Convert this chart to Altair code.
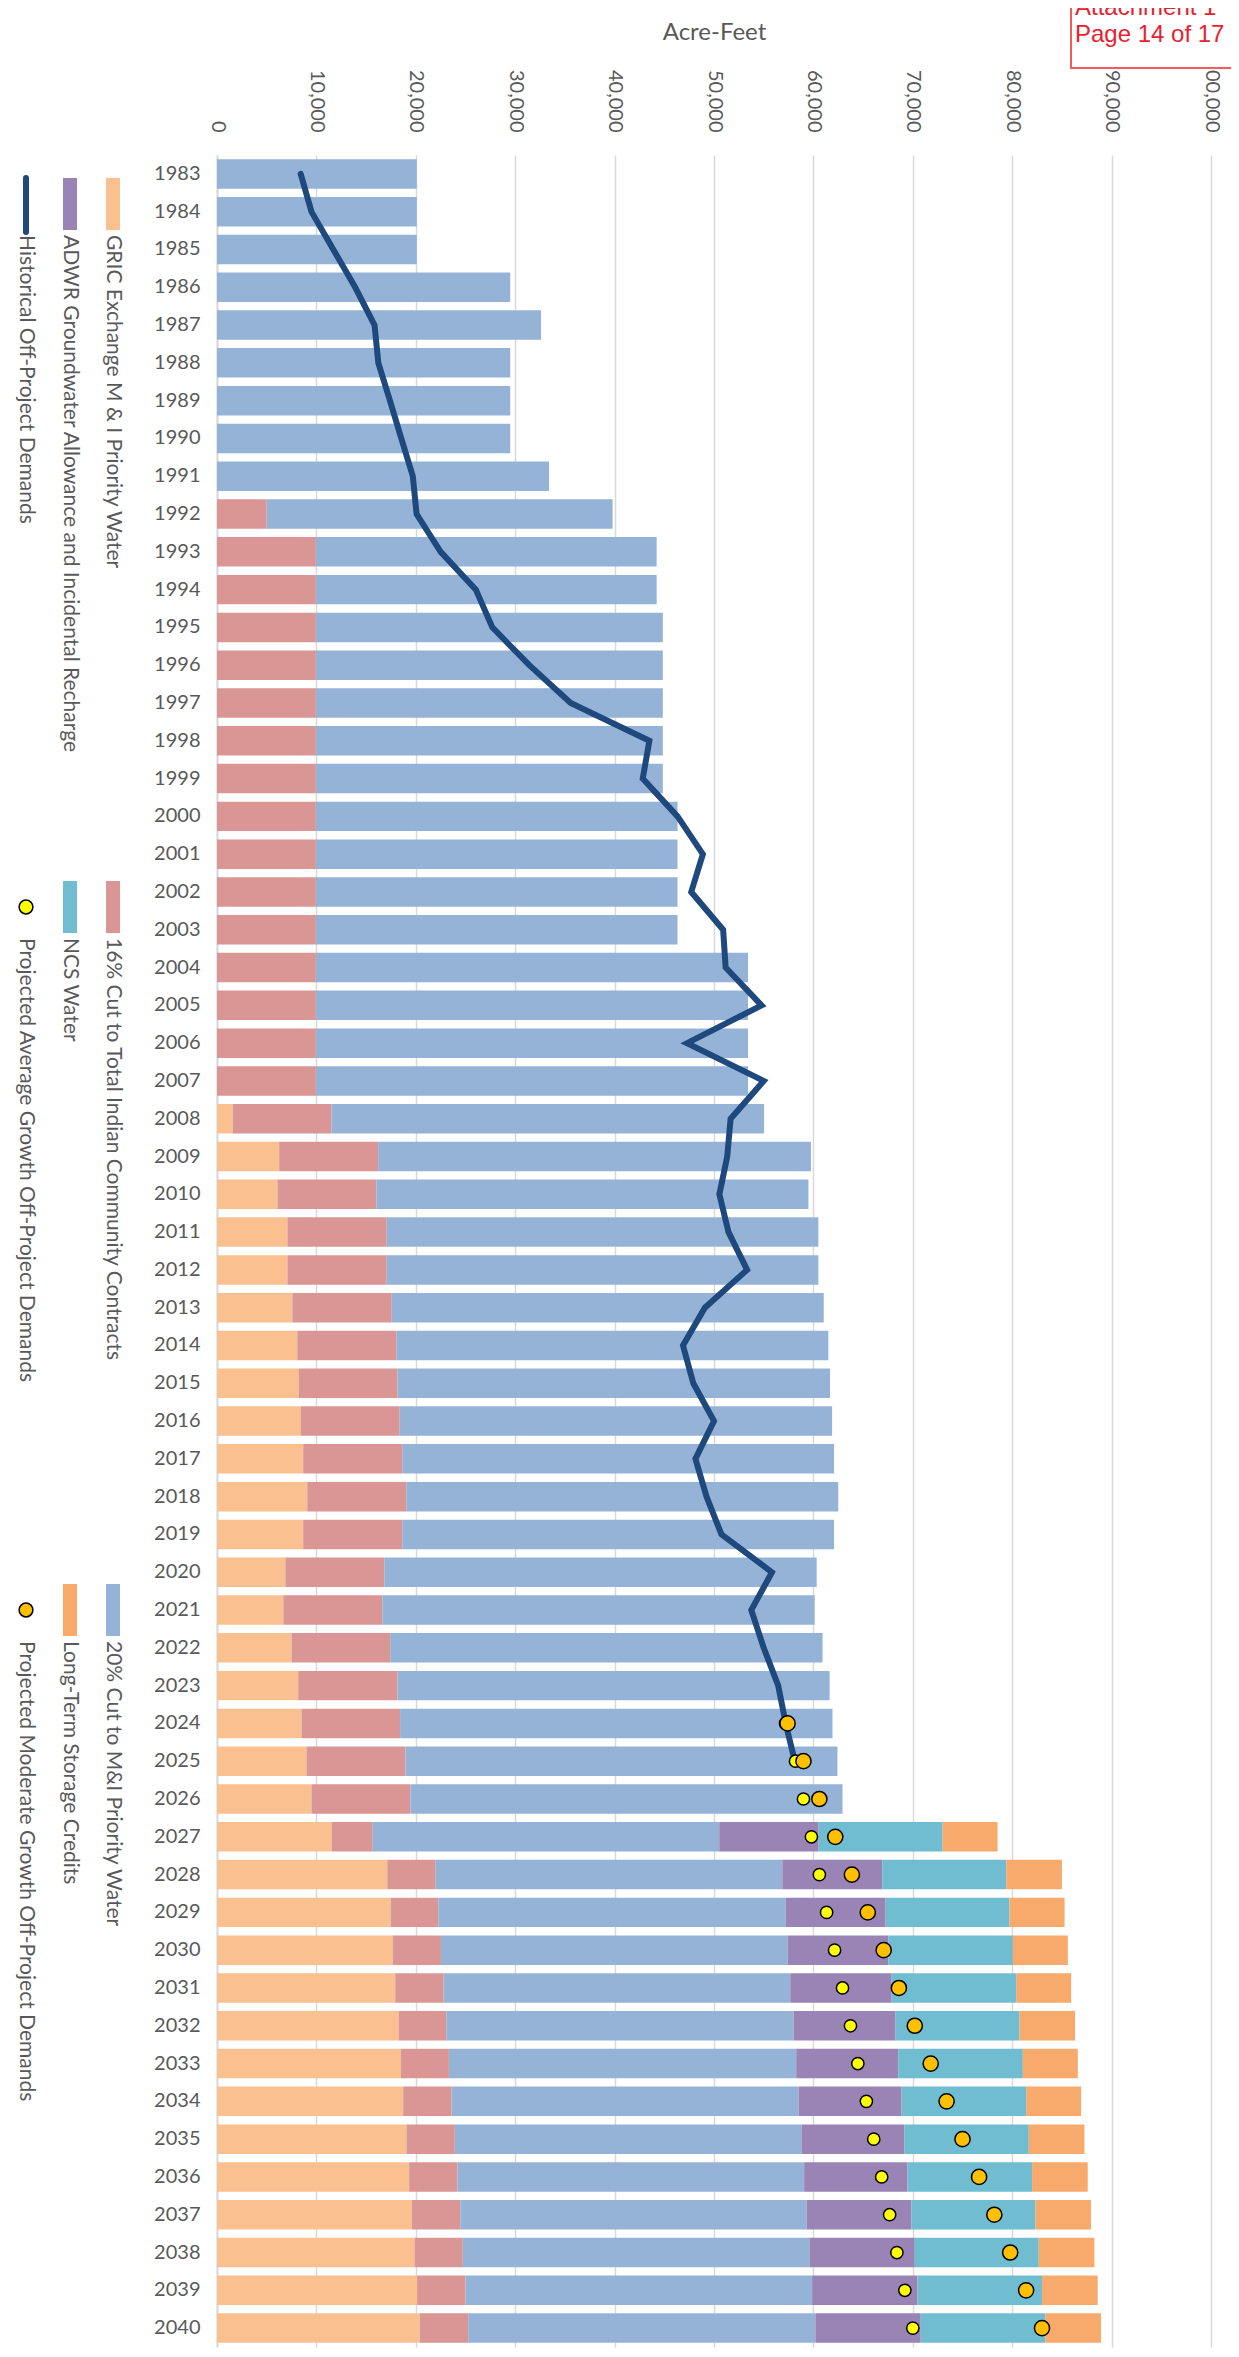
import altair as alt
import pandas as pd

# ---------------- data ----------------
years = list(range(1983, 2041))

series_names = [
    "GRIC Exchange M & I Priority Water",
    "16% Cut to Total Indian Community Contracts",
    "20% Cut to M&I Priority Water",
    "ADWR Groundwater Allowance and Incidental Recharge",
    "NCS Water",
    "Long-Term Storage Credits",
]
series_colors = ["#FAC090", "#DA9694", "#95B3D7", "#9A84B6", "#70BCD1", "#F7AA6C"]

gric = [0] * 25 + [1580, 6250, 6080, 7080, 7080, 7580, 8080, 8210, 8420, 8670, 9080, 8670,
                   6880, 6670, 7500, 8170, 8500, 9000, 9500, 11530, 17130, 17470, 17670,
                   17930, 18270, 18470, 18730, 19070, 19330, 19600, 19870, 20130, 20400]
cut16 = [0] * 9 + [5000] + [9950] * 15 + [
    9920, 9960, 9960, 10000, 10000, 10000, 9960, 9960, 9960, 9960, 9960, 9960, 9950, 9960,
    9920, 10000, 9920, 9960, 9960,
    4140, 4870, 4800, 4860, 4870, 4800, 4860, 4870, 4860, 4870, 4870, 4860, 4870, 4870]
cut20 = [20100, 20100, 20100, 29500, 32600, 29500, 29500, 29500, 33400,
         34800, 34280, 34280] + [34900] * 5 + [36380] * 4 + [43470] * 4 + [
    43540, 43540, 43460, 43420, 43420, 43460, 43460, 43500, 43500, 43450, 43460, 43450,
    43500, 43500, 43500, 43460, 43500, 43460, 43470,
    34860, 34870, 34930, 34870, 34870, 34930, 34940, 34930, 34870, 34870, 34860, 34870,
    34870, 34930]
adwr = [0] * 44 + [10000, 10060, 10070, 10130, 10200, 10270, 10260, 10340, 10330, 10400,
                   10540, 10600, 10600, 10600]
ncs = [0] * 44 + [12470, 12470, 12460, 12540, 12530, 12460, 12540, 12530, 12540, 12530,
                  12460, 12470, 12530, 12530]
lts = [0] * 44 + [5530, 5600, 5540, 5530, 5530, 5600, 5530, 5530, 5600, 5600, 5600, 5600,
                  5600, 5600]

hist_years = list(range(1983, 2026))
hist_demand = [8420, 9500, 11700, 13900, 15850, 16230, 17400, 18540, 19700, 20080,
               22500, 26040, 27700, 31420, 35580, 43500, 42830, 46330, 48880, 47710,
               50920, 51170, 54790, 47290, 55000, 51670, 51330, 50540, 51460, 53330,
               49080, 46880, 47920, 50000, 48130, 49250, 50750, 55830, 53750, 55000,
               56460, 57210, 58130]

proj_years = list(range(2024, 2041))
proj_average = [57200, 58200, 59000, 59800, 60600, 61330, 62130, 62930, 63730, 64470,
                65330, 66070, 66870, 67670, 68400, 69200, 70000]
proj_moderate = [57400, 59000, 60600, 62200, 63870, 65470, 67070, 68600, 70200, 71800,
                 73400, 75000, 76670, 78200, 79800, 81400, 83000]

tick_values = list(range(0, 100001, 10000))

# ---------------- tables ----------------
rows = []
for k, (name, vals) in enumerate(zip(series_names, [gric, cut16, cut20, adwr, ncs, lts])):
    for y, v in zip(years, vals):
        if v > 0:
            rows.append({"Year": y, "Series": name, "Value": v, "k": k})
bars_df = pd.DataFrame(rows)
hist_df = pd.DataFrame({"Year": hist_years, "Value": hist_demand})
avg_df = pd.DataFrame({"Year": proj_years, "Value": proj_average})
mod_df = pd.DataFrame({"Year": proj_years, "Value": proj_moderate})

FONT = "Lato"
GREY = "#595959"
W, H = 994, 2192

x_enc = alt.X(
    "Value:Q",
    stack="zero",
    title="Acre-Feet",
    scale=alt.Scale(domain=[0, 100000], nice=False, zero=True),
    axis=alt.Axis(
        orient="top", values=tick_values, format=",d", labelAngle=90,
        labelAlign="right", labelBaseline="middle", labelPadding=23,
        labelFlush=False, labelOverlap=False, labelFont=FONT, labelFontSize=20,
        labelColor=GREY, ticks=False, tickSize=0, domain=False, grid=True,
        gridColor="#D9D9D9", gridWidth=1.5, titleFont=FONT, titleFontSize=24,
        titleFontWeight="normal", titleColor=GREY, titleY=-116,
        titleBaseline="alphabetic",
    ),
)
x_plain = alt.X("Value:Q", title="Acre-Feet")

y_axis = alt.Axis(
    title=None, labelFont=FONT, labelFontSize=20, labelColor=GREY, labelPadding=17,
    ticks=False, tickSize=0, domainColor="#D9D9D9", domainWidth=2, labelOverlap=False,
)
y_scale = alt.Scale(paddingInner=0.22, paddingOuter=0.11)

bars = alt.Chart(bars_df).mark_bar(opacity=1).encode(
    y=alt.Y("Year:O", scale=y_scale, axis=y_axis),
    x=x_enc,
    color=alt.Color("Series:N", scale=alt.Scale(domain=series_names, range=series_colors),
                    legend=None),
    order=alt.Order("k:Q", sort="ascending"),
)

line = alt.Chart(hist_df).mark_line(
    color="#1F497D", strokeWidth=6, strokeCap="round", strokeJoin="miter"
).encode(
    y=alt.Y("Year:O", bandPosition=0.5),
    x=x_plain,
    order=alt.Order("Year:Q"),
)

avg_pts = alt.Chart(avg_df).mark_point(
    shape="circle", filled=True, fill="#FFFF00", stroke="#000000", strokeWidth=1.5,
    size=150, opacity=1
).encode(y=alt.Y("Year:O", bandPosition=0.5), x=x_plain)

mod_pts = alt.Chart(mod_df).mark_point(
    shape="circle", filled=True, fill="#FFC000", stroke="#000000", strokeWidth=1.5,
    size=230, opacity=1
).encode(y=alt.Y("Year:O", bandPosition=0.5), x=x_plain)

# ---------------- rotated legend (drawn left of the axis) ----------------
one = pd.DataFrame({"a": [0]})
col_x = {0: -104, 1: -147, 2: -191}
row_top = {0: 23, 1: 726, 2: 1429}
legend_layers = []
legend_items = [
    (series_names[0], "rect", series_colors[0], 0, 0),
    (series_names[3], "rect", series_colors[3], 1, 0),
    ("Historical Off-Project Demands", "line", "#1F497D", 2, 0),
    (series_names[1], "rect", series_colors[1], 0, 1),
    (series_names[4], "rect", series_colors[4], 1, 1),
    ("Projected Average Growth Off-Project Demands", "dot", "#FFFF00", 2, 1),
    (series_names[2], "rect", series_colors[2], 0, 2),
    (series_names[5], "rect", series_colors[5], 1, 2),
    ("Projected Moderate Growth Off-Project Demands", "dot", "#FFC000", 2, 2),
]
for label, kind, colr, c, r in legend_items:
    cx, top = col_x[c], row_top[r]
    if kind == "rect":
        sym = alt.Chart(one).mark_rect(color=colr).encode(
            x=alt.value(cx - 7), x2=alt.value(cx + 7), y=alt.value(top), y2=alt.value(top + 52))
    elif kind == "line":
        sym = alt.Chart(one).mark_rule(color=colr, strokeWidth=6, strokeCap="round").encode(
            x=alt.value(cx), y=alt.value(top), y2=alt.value(top + 54))
    else:
        sym = alt.Chart(one).mark_point(
            shape="circle", filled=True, fill=colr, stroke="#000000", strokeWidth=1.5,
            size=190, opacity=1).encode(x=alt.value(cx), y=alt.value(top + 26))
    txt = alt.Chart(one).mark_text(
        text=label, angle=90, align="left", baseline="middle", font=FONT, fontSize=21,
        color=GREY).encode(x=alt.value(cx), y=alt.value(top + 57))
    legend_layers += [sym, txt]

# ---------------- stamp ----------------
stamp_box = alt.Chart(one).mark_rect(fill="#FFFFFF", stroke="#F25C5C", strokeWidth=2).encode(
    x=alt.value(854), x2=alt.value(1060), y=alt.value(-175), y2=alt.value(-87))
stamp_t1 = alt.Chart(one).mark_text(
    text="Attachment 1", align="left", baseline="alphabetic", font="Liberation Sans",
    fontSize=24, color="#E8212E").encode(x=alt.value(858), y=alt.value(-140))
stamp_t2 = alt.Chart(one).mark_text(
    text="Page 14 of 17", align="left", baseline="alphabetic", font="Liberation Sans",
    fontSize=24, color="#E8212E").encode(x=alt.value(858), y=alt.value(-113))

chart = alt.layer(
    bars, line, avg_pts, mod_pts, *legend_layers, stamp_box, stamp_t1, stamp_t2
).properties(
    width=W, height=H,
    autosize=alt.AutoSizeParams(type="none"),
    padding={"left": 209, "top": 147, "right": 20, "bottom": 2},
).configure_view(strokeWidth=0)

chart.save("out.html", embed_options={"renderer": "svg", "actions": False})
